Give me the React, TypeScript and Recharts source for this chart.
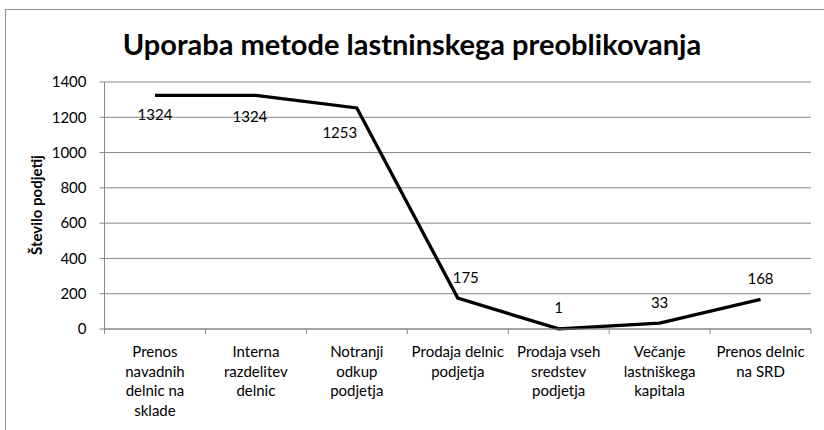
import React from "react";
import { LineChart, Line, XAxis, YAxis, CartesianGrid, LabelList, Label } from "recharts";

const categories: string[][] = [
  ["Prenos", "navadnih", "delnic na", "sklade"],
  ["Interna", "razdelitev", "delnic"],
  ["Notranji", "odkup", "podjetja"],
  ["Prodaja delnic", "podjetja"],
  ["Prodaja vseh", "sredstev", "podjetja"],
  ["Večanje", "lastniškega", "kapitala"],
  ["Prenos delnic", "na SRD"],
];
const values: number[] = [1324, 1324, 1253, 175, 1, 33, 168];
const yTicks: number[] = [0, 200, 400, 600, 800, 1000, 1200, 1400];
const title = "Uporaba metode lastninskega preoblikovanja";
const yTitle = "Število podjetij";

// label placement offsets (style only)
const labelOffsets: [number, number][] = [
  [0, 19],
  [-6, 21],
  [-17, 25],
  [8, -21],
  [0, -21],
  [0, -21],
  [0, -21],
];

const data = categories.map((c, i) => ({ name: c.join(" "), idx: i, value: values[i] }));

const W = 824;
const H = 430;
const LEFT = 104.5;
const RIGHT = 811;
const TOP = 82;
const BOTTOM = 329;
const XAXIS_H = 90;
const BAND = (RIGHT - LEFT) / categories.length;
const FONT = "Lato, 'Open Sans', sans-serif";
const GREY = "#878787";

const XTick = (props: any) => {
  const { x, y, index } = props;
  const lines = categories[index] || [];
  const isLast = index === categories.length - 1;
  return (
    <g>
      <line x1={x - BAND / 2} x2={x - BAND / 2} y1={y} y2={y + 5} stroke={GREY} strokeWidth={1} />
      {isLast && (
        <line x1={x + BAND / 2} x2={x + BAND / 2} y1={y} y2={y + 5} stroke={GREY} strokeWidth={1} />
      )}
      <text x={x} y={y + 28} textAnchor="middle" fontFamily={FONT} fontSize={15} fill="#000">
        {lines.map((l, i) => (
          <tspan key={i} x={x} dy={i === 0 ? 0 : 19.7}>
            {l}
          </tspan>
        ))}
      </text>
    </g>
  );
};

const DataLabel = (props: any) => {
  const { x, y, value, index } = props;
  const off = labelOffsets[index] || [0, -20];
  return (
    <text
      x={x + off[0]}
      y={y + off[1]}
      dy="0.36em"
      textAnchor="middle"
      fontFamily={FONT}
      fontSize={15}
      fill="#000"
    >
      {value}
    </text>
  );
};

export default function App() {
  return (
    <div style={{ position: "absolute", left: 0, top: 0, width: W, height: H, background: "#fff", overflow: "hidden" }}>
      <div
        style={{
          position: "absolute",
          left: 5,
          top: 9,
          width: W + 20,
          height: H + 20,
          border: "1px solid #8e8e8e",
          boxSizing: "border-box",
        }}
      />
      <div
        style={{
          position: "absolute",
          left: 0,
          top: 26,
          width: W,
          textAlign: "center",
          fontFamily: FONT,
          fontWeight: 700,
          fontSize: 29,
          lineHeight: "36px",
          color: "#000",
        }}
      >
        {title}
      </div>
      <div style={{ position: "absolute", left: 0, top: 0 }}>
        <LineChart
          width={W}
          height={H}
          data={data}
          margin={{ top: TOP, right: W - RIGHT, bottom: H - BOTTOM - XAXIS_H, left: 0 }}
        >
          <CartesianGrid horizontal={true} vertical={false} stroke={GREY} strokeWidth={1} />
          <XAxis
            dataKey="name"
            interval={0}
            padding={{ left: BAND / 2, right: BAND / 2 }}
            axisLine={{ stroke: GREY }}
            tickLine={false}
            tickSize={0}
            tickMargin={0}
            tick={<XTick />}
            height={XAXIS_H}
          />
          <YAxis
            width={LEFT}
            domain={[0, 1400]}
            ticks={yTicks}
            interval={0}
            axisLine={{ stroke: GREY }}
            tickLine={{ stroke: GREY }}
            tickSize={5}
            tickMargin={13}
            tick={{ fontFamily: FONT, fontSize: 15, fill: "#000" }}
          >
            <Label
              content={() => (
                <text
                  x={37}
                  y={205}
                  transform="rotate(-90 37 205)"
                  textAnchor="middle"
                  dy="0.36em"
                  fontFamily={FONT}
                  fontWeight={700}
                  fontSize={15}
                  fill="#000"
                >
                  {yTitle}
                </text>
              )}
            />
          </YAxis>
          <Line
            type="linear"
            dataKey="value"
            stroke="#000"
            strokeWidth={3.3}
            dot={false}
            activeDot={false}
            isAnimationActive={false}
          >
            <LabelList dataKey="value" content={<DataLabel />} />
          </Line>
        </LineChart>
      </div>
    </div>
  );
}
